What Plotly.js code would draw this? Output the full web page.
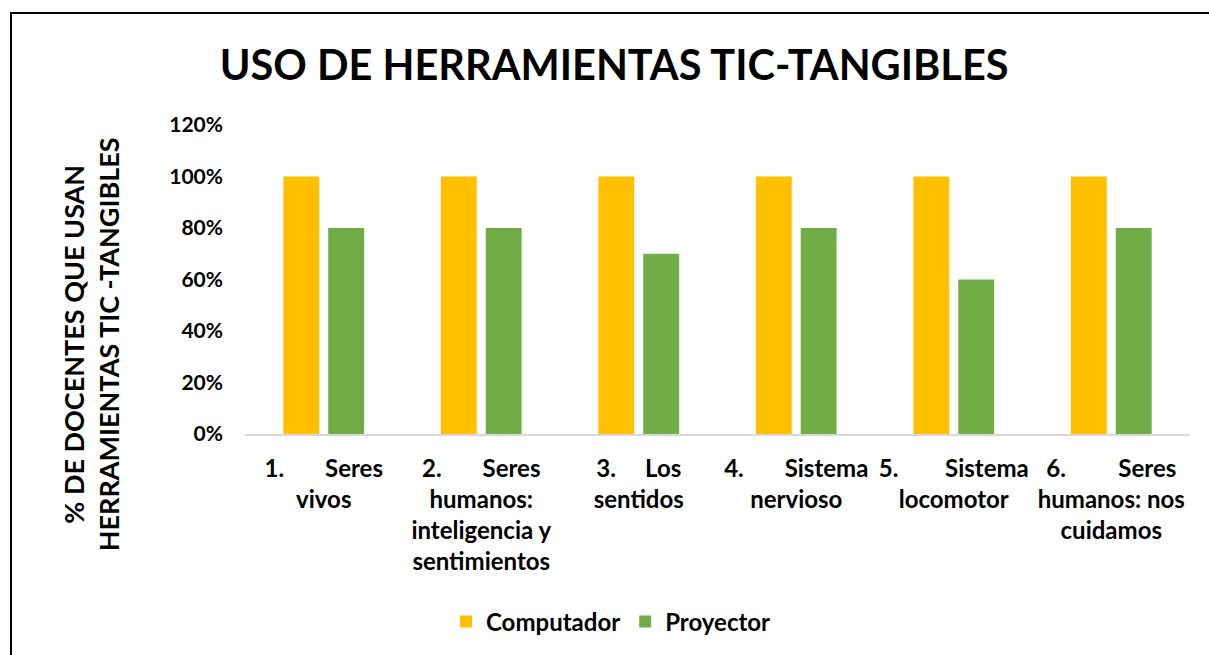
<!DOCTYPE html>
<html><head><meta charset="utf-8">
<script src="https://cdn.plot.ly/plotly-3.0.1.min.js"></script>
<style>
html,body{margin:0;padding:0;background:#fff;overflow:hidden;}
#chart{width:1209px;height:655px;position:absolute;left:0;top:0;}
#frame{position:absolute;left:10px;top:12px;width:1260px;height:700px;border:2px solid #000;pointer-events:none;box-sizing:border-box;}
</style></head>
<body>
<div id="chart"></div>
<div id="frame"></div>
<script>
const NB = '\u00a0';
const categories = [
  '1.' + NB.repeat(7) + 'Seres<br>vivos',
  '2.' + NB.repeat(7) + 'Seres<br>humanos:<br>inteligencia y<br>sentimientos',
  '3.' + NB.repeat(5) + 'Los<br>sentidos',
  '4.' + NB.repeat(7) + 'Sistema<br>nervioso',
  '5.' + NB.repeat(8) + 'Sistema<br>locomotor',
  '6.' + NB.repeat(9) + 'Seres<br>humanos: nos<br>cuidamos'
];
const computador = [1.0, 1.0, 1.0, 1.0, 1.0, 1.0];
const proyector = [0.8, 0.8, 0.7, 0.8, 0.6, 0.8];
const yTicks = [0, 0.2, 0.4, 0.6, 0.8, 1.0, 1.2];
const yTickText = ['0%', '20%', '40%', '60%', '80%', '100%', '120%'];

const FONT = 'Lato, "Open Sans", sans-serif';
const data = [
  {type:'bar', name:'Computador', x:categories, y:computador, marker:{color:'#FFC000'}, hoverinfo:'y'},
  {type:'bar', name:'Proyector', x:categories, y:proyector, marker:{color:'#70AD47'}, hoverinfo:'y'}
];
const layout = {
  width:1209, height:655,
  paper_bgcolor:'#fff', plot_bgcolor:'#fff',
  margin:{l:245, r:19, t:125, b:220},
  font:{family:FONT, color:'#000', size:20, weight:'bold'},
  title:{text:'<b>USO DE HERRAMIENTAS TIC-TANGIBLES</b>', font:{family:FONT, size:41.5, color:'#000', weight:'bold'},
         x:0.508, xanchor:'center', y:1-65/655, yanchor:'middle', yref:'container'},
  barmode:'group', bargap:0.43, bargroupgap:0.2,
  xaxis:{type:'category', showgrid:false, showline:true, linecolor:'#d9d9d9', linewidth:2,
         ticks:'', tickangle:0, ticklabelstandoff:12,
         tickfont:{family:FONT, size:24, color:'#000', weight:'bold'}},
  yaxis:{range:[0,1.2], tickvals:yTicks, ticktext:yTickText, showgrid:false, zeroline:false, showline:false,
         ticks:'', ticklabelstandoff:21,
         tickfont:{family:FONT, size:21, color:'#000', weight:'bold'}},
  showlegend:true,
  legend:{orientation:'h', x:(611-245)/945, xanchor:'center', y:(435-622)/310, yanchor:'middle',
          font:{family:FONT, size:24, color:'#000', weight:'bold'}, itemwidth:30, traceorder:'normal'},
  annotations:[{
    text:'<b>% DE DOCENTES QUE USAN<br>HERRAMIENTAS TIC -TANGIBLES</b>',
    xref:'paper', yref:'paper', x:(91-245)/945, y:(435-345)/310, xanchor:'center', yanchor:'middle',
    textangle:-90, showarrow:false, font:{family:FONT, size:27, color:'#000', weight:'bold'}
  }]
};
Plotly.newPlot('chart', data, layout, {displayModeBar:false, staticPlot:true});
</script>
</body></html>
